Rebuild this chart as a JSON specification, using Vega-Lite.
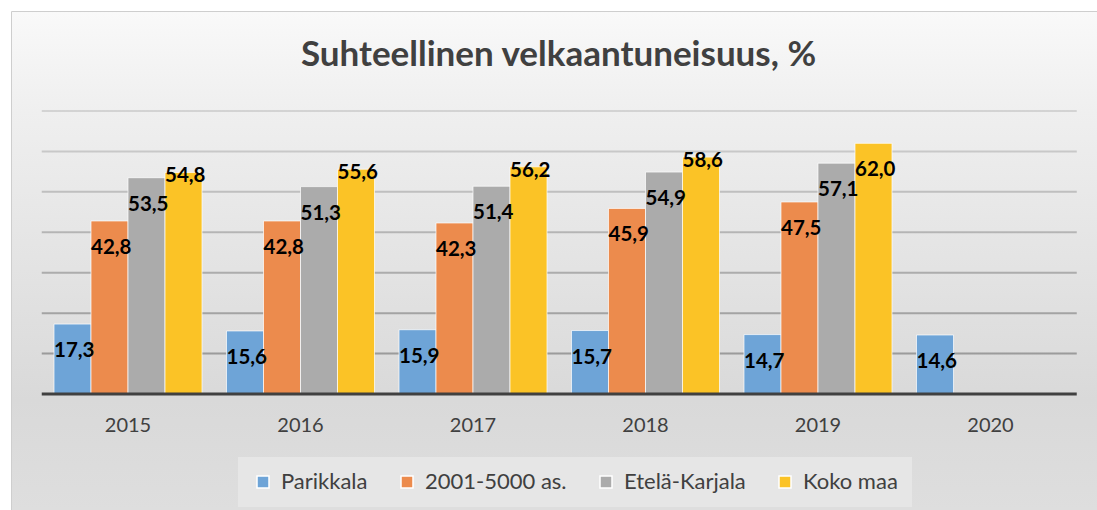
{
  "$schema": "https://vega.github.io/schema/vega-lite/v6.json",
  "width": 1085,
  "height": 498,
  "autosize": {"type": "none"},
  "padding": {"left": 12, "top": 12, "right": 0, "bottom": 0},
  "background": "#ffffff",
  "config": {
    "view": {"stroke": "#bfbfbf", "strokeWidth": 1.5},
    "font": "Lato",
    "locale": {"number": {"decimal": ",", "thousands": " ", "grouping": [3], "currency": ["", " €"]}}
  },
  "title": {
    "text": "Suhteellinen velkaantuneisuus, %",
    "font": "Lato",
    "fontSize": 35,
    "fontWeight": "bold",
    "color": "#404040",
    "anchor": "middle",
    "baseline": "alphabetic",
    "offset": -89,
    "dx": 4,
    "zindex": 1
  },
  "datasets": {
    "bars": [
      {"year": "2015", "series": "Parikkala", "value": 17.3},
      {"year": "2015", "series": "2001-5000 as.", "value": 42.8},
      {"year": "2015", "series": "Etelä-Karjala", "value": 53.5},
      {"year": "2015", "series": "Koko maa", "value": 54.8},
      {"year": "2016", "series": "Parikkala", "value": 15.6},
      {"year": "2016", "series": "2001-5000 as.", "value": 42.8},
      {"year": "2016", "series": "Etelä-Karjala", "value": 51.3},
      {"year": "2016", "series": "Koko maa", "value": 55.6},
      {"year": "2017", "series": "Parikkala", "value": 15.9},
      {"year": "2017", "series": "2001-5000 as.", "value": 42.3},
      {"year": "2017", "series": "Etelä-Karjala", "value": 51.4},
      {"year": "2017", "series": "Koko maa", "value": 56.2},
      {"year": "2018", "series": "Parikkala", "value": 15.7},
      {"year": "2018", "series": "2001-5000 as.", "value": 45.9},
      {"year": "2018", "series": "Etelä-Karjala", "value": 54.9},
      {"year": "2018", "series": "Koko maa", "value": 58.6},
      {"year": "2019", "series": "Parikkala", "value": 14.7},
      {"year": "2019", "series": "2001-5000 as.", "value": 47.5},
      {"year": "2019", "series": "Etelä-Karjala", "value": 57.1},
      {"year": "2019", "series": "Koko maa", "value": 62.0},
      {"year": "2020", "series": "Parikkala", "value": 14.6}
    ],
    "grid": [{"g": 10}, {"g": 20}, {"g": 30}, {"g": 40}, {"g": 50}, {"g": 60}, {"g": 70}],
    "base": [{"g": 0}]
  },
  "layer": [
    {
      "data": {"values": [{}]},
      "mark": {
        "type": "rect",
        "color": {
          "gradient": "linear", "x1": 0, "y1": 0, "x2": 0, "y2": 1,
          "stops": [
            {"offset": 0, "color": "#f9f9f9"},
            {"offset": 0.2, "color": "#efefef"},
            {"offset": 0.78, "color": "#d9d9d9"},
            {"offset": 1, "color": "#dedede"}
          ]
        }
      },
      "encoding": {}
    },
    {
      "data": {"name": "grid"},
      "mark": {"type": "rule", "stroke": "#7f7f7f", "strokeWidth": 2},
      "encoding": {
        "y": {"field": "g", "type": "quantitative", "scale": {"domain": [-28.69, 94.49], "nice": false, "zero": false}, "axis": null},
        "x": {"datum": 0, "type": "quantitative", "scale": {"domain": [-0.028744, 1.019565], "nice": false, "zero": false}, "axis": null},
        "x2": {"datum": 1},
        "opacity": {"field": "g", "type": "quantitative", "scale": {"domain": [10, 70], "range": [0.7, 0.25]}, "legend": null}
      }
    },
    {
      "data": {"name": "bars"},
      "encoding": {
        "x": {
          "field": "year", "type": "nominal",
          "scale": {"paddingInner": 0, "paddingOuter": 0.145, "align": 0.595},
          "axis": {"orient": "bottom", "offset": -116, "zindex": 2, "domain": false, "ticks": false, "grid": false, "labelAngle": 0, "labelPadding": 21, "labelFontSize": 20, "labelColor": "#404040", "labelFont": "Lato", "title": null}
        },
        "xOffset": {
          "field": "series", "type": "nominal",
          "sort": ["Parikkala", "2001-5000 as.", "Etelä-Karjala", "Koko maa"],
          "scale": {"paddingInner": 0, "paddingOuter": 0.331}
        },
        "y": {"field": "value", "type": "quantitative", "scale": {"domain": [-28.69, 94.49], "nice": false, "zero": false}, "axis": null}
      },
      "layer": [
        {
          "mark": {"type": "bar", "stroke": "#ffffff", "strokeWidth": 1, "strokeOpacity": 0.7},
          "encoding": {
            "color": {
              "field": "series", "type": "nominal",
              "sort": ["Parikkala", "2001-5000 as.", "Etelä-Karjala", "Koko maa"],
              "scale": {"domain": ["Parikkala", "2001-5000 as.", "Etelä-Karjala", "Koko maa"], "range": ["#6ea4d7", "#ec8b4d", "#ababab", "#fbc326"]},
              "legend": {
                "orient": "none", "legendX": 226, "legendY": 445, "direction": "horizontal",
                "title": null, "fillColor": "#e6e6e6", "padding": 14, "zindex": 2,
                "labelFont": "Lato", "labelFontSize": 22, "labelColor": "#404040",
                "symbolType": "square", "symbolSize": 144, "labelOffset": 7, "columnPadding": 28
              }
            }
          }
        },
        {
          "transform": [{"filter": "datum.series != 'Koko maa' || datum.year == '2019'"}],
          "mark": {"type": "text", "align": "left", "baseline": "middle", "dx": -18.5, "dy": 27, "fontSize": 20.5, "fontWeight": "bold", "font": "Lato", "color": "#000000"},
          "encoding": {"text": {"field": "value", "type": "quantitative", "format": ".1f"}}
        },
        {
          "transform": [{"filter": "datum.series == 'Koko maa' && datum.year != '2019'"}],
          "mark": {"type": "text", "align": "left", "baseline": "middle", "dx": -18.5, "dy": 4, "fontSize": 20.5, "fontWeight": "bold", "font": "Lato", "color": "#000000"},
          "encoding": {"text": {"field": "value", "type": "quantitative", "format": ".1f"}}
        }
      ]
    },
    {
      "data": {"name": "base"},
      "mark": {"type": "rule", "stroke": "#404040", "strokeWidth": 3},
      "encoding": {
        "y": {"field": "g", "type": "quantitative"},
        "x": {"datum": 0, "type": "quantitative", "scale": {"domain": [-0.028744, 1.019565], "nice": false, "zero": false}, "axis": null},
        "x2": {"datum": 1}
      }
    }
  ],
  "resolve": {"scale": {"x": "independent"}}
}
